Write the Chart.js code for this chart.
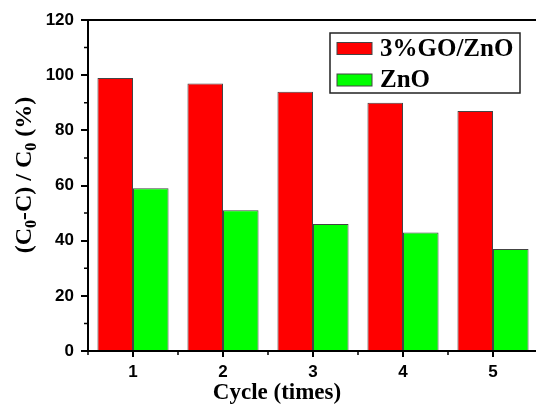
<!DOCTYPE html>
<html>
<head>
<meta charset="utf-8">
<script src="https://cdn.jsdelivr.net/npm/chart.js@4/dist/chart.umd.min.js"></script>
<style>
  html, body { margin: 0; padding: 0; overflow: hidden; background: #fff; }
  #wrap { width: 545px; height: 405px; position: relative; }
</style>
</head>
<body>
<div id="wrap"><canvas id="cycleChart"></canvas></div>
<script>
var cycles = ["1", "2", "3", "4", "5"];
var goZnO = [99, 97, 94, 90, 87];
var pureZnO = [59, 51, 46, 43, 37];
var seriesNames = ["3%GO/ZnO", "ZnO"];
var yTicks = [0, 20, 40, 60, 80, 100, 120];

var serif = "'Liberation Serif', 'Times New Roman', serif";
var sans = "'Liberation Sans', Arial, sans-serif";

// box around the plot, small in-between ticks, axis titles and legend
var decorations = {
    id: "decorations",
    afterDraw: function (chart) {
        var ctx = chart.ctx;
        var area = chart.chartArea;
        var xs = chart.scales.x;
        var ys = chart.scales.y;
        ctx.save();

        ctx.strokeStyle = "#000";
        ctx.lineWidth = 2;
        ctx.beginPath();
        ctx.moveTo(area.left, area.top);
        ctx.lineTo(area.right, area.top);
        ctx.lineTo(area.right, area.bottom);
        ctx.stroke();

        // minor ticks
        ctx.lineWidth = 1.5;
        ctx.beginPath();
        for (var v = 10; v < 120; v += 20) {
            var py = ys.getPixelForValue(v);
            ctx.moveTo(area.left - 4, py);
            ctx.lineTo(area.left, py);
        }
        for (var i = -1; i < cycles.length; i++) {
            var px = xs.getPixelForValue(i + 0.5);
            ctx.moveTo(px, area.bottom);
            ctx.lineTo(px, area.bottom + 4);
        }
        ctx.stroke();

        // x title
        ctx.fillStyle = "#000";
        ctx.font = "bold 23px " + serif;
        ctx.textAlign = "center";
        ctx.textBaseline = "alphabetic";
        ctx.fillText("Cycle (times)", 277, 399);

        // y title with subscripts
        var parts = [["(C", false], ["0", true], ["-C) / C", false], ["0", true], [" (%)", false]];
        var mainFont = "bold 24px " + serif;
        var subFont = "bold 16px " + serif;
        var total = 0;
        parts.forEach(function (p) {
            ctx.font = p[1] ? subFont : mainFont;
            total += ctx.measureText(p[0]).width;
        });
        ctx.translate(31, 175);
        ctx.rotate(-Math.PI / 2);
        ctx.textAlign = "left";
        var cx = -total / 2;
        parts.forEach(function (p) {
            ctx.font = p[1] ? subFont : mainFont;
            ctx.fillText(p[0], cx, p[1] ? 5 : 0);
            cx += ctx.measureText(p[0]).width;
        });
        ctx.setTransform(1, 0, 0, 1, 0, 0);

        // legend
        ctx.strokeStyle = "#222";
        ctx.lineWidth = 1.5;
        ctx.strokeRect(330, 33, 190, 60);
        var rows = [55.5, 87];
        chart.data.datasets.forEach(function (ds, k) {
            var base = rows[k];
            ctx.fillStyle = ds.backgroundColor;
            ctx.fillRect(337, base - 13, 35, 12);
            ctx.strokeStyle = "#444";
            ctx.lineWidth = 1;
            ctx.strokeRect(337, base - 13, 35, 12);
            ctx.fillStyle = "#000";
            ctx.font = "bold 25px " + serif;
            ctx.textAlign = "left";
            ctx.fillText(ds.label, 380, base);
        });

        ctx.restore();
    }
};

new Chart("cycleChart", {
    type: "bar",
    data: {
        labels: cycles,
        datasets: [{
            label: seriesNames[0],
            data: goZnO,
            backgroundColor: "#ff0000",
            borderColor: "#444",
            borderWidth: 1
        }, {
            label: seriesNames[1],
            data: pureZnO,
            backgroundColor: "#00ff00",
            borderColor: "#444",
            borderWidth: 1
        }]
    },
    options: {
        responsive: true,
        maintainAspectRatio: false,
        animation: false,
        layout: { padding: { top: 20, right: 7, bottom: 0, left: 0 } },
        datasets: {
            bar: { barPercentage: 1, categoryPercentage: 0.79 }
        },
        plugins: {
            legend: { display: false },
            tooltip: { enabled: false }
        },
        scales: {
            x: {
                grid: {
                    offset: false,
                    drawOnChartArea: false,
                    tickLength: 6,
                    color: "#000",
                    lineWidth: 2
                },
                border: { color: "#000", width: 2 },
                ticks: {
                    color: "#000",
                    padding: 5,
                    font: { family: sans, size: 17, weight: "bold" }
                },
                afterFit: function (scale) { scale.height = 54; }
            },
            y: {
                min: 0,
                max: 120,
                afterBuildTicks: function (scale) {
                    scale.ticks = yTicks.map(function (v) { return { value: v }; });
                },
                grid: {
                    drawOnChartArea: false,
                    tickLength: 7,
                    color: "#000",
                    lineWidth: 2
                },
                border: { color: "#000", width: 2 },
                ticks: {
                    color: "#000",
                    padding: 7,
                    font: { family: sans, size: 17, weight: "bold" }
                },
                afterFit: function (scale) { scale.width = 88; }
            }
        }
    },
    plugins: [decorations]
});
</script>
</body>
</html>
